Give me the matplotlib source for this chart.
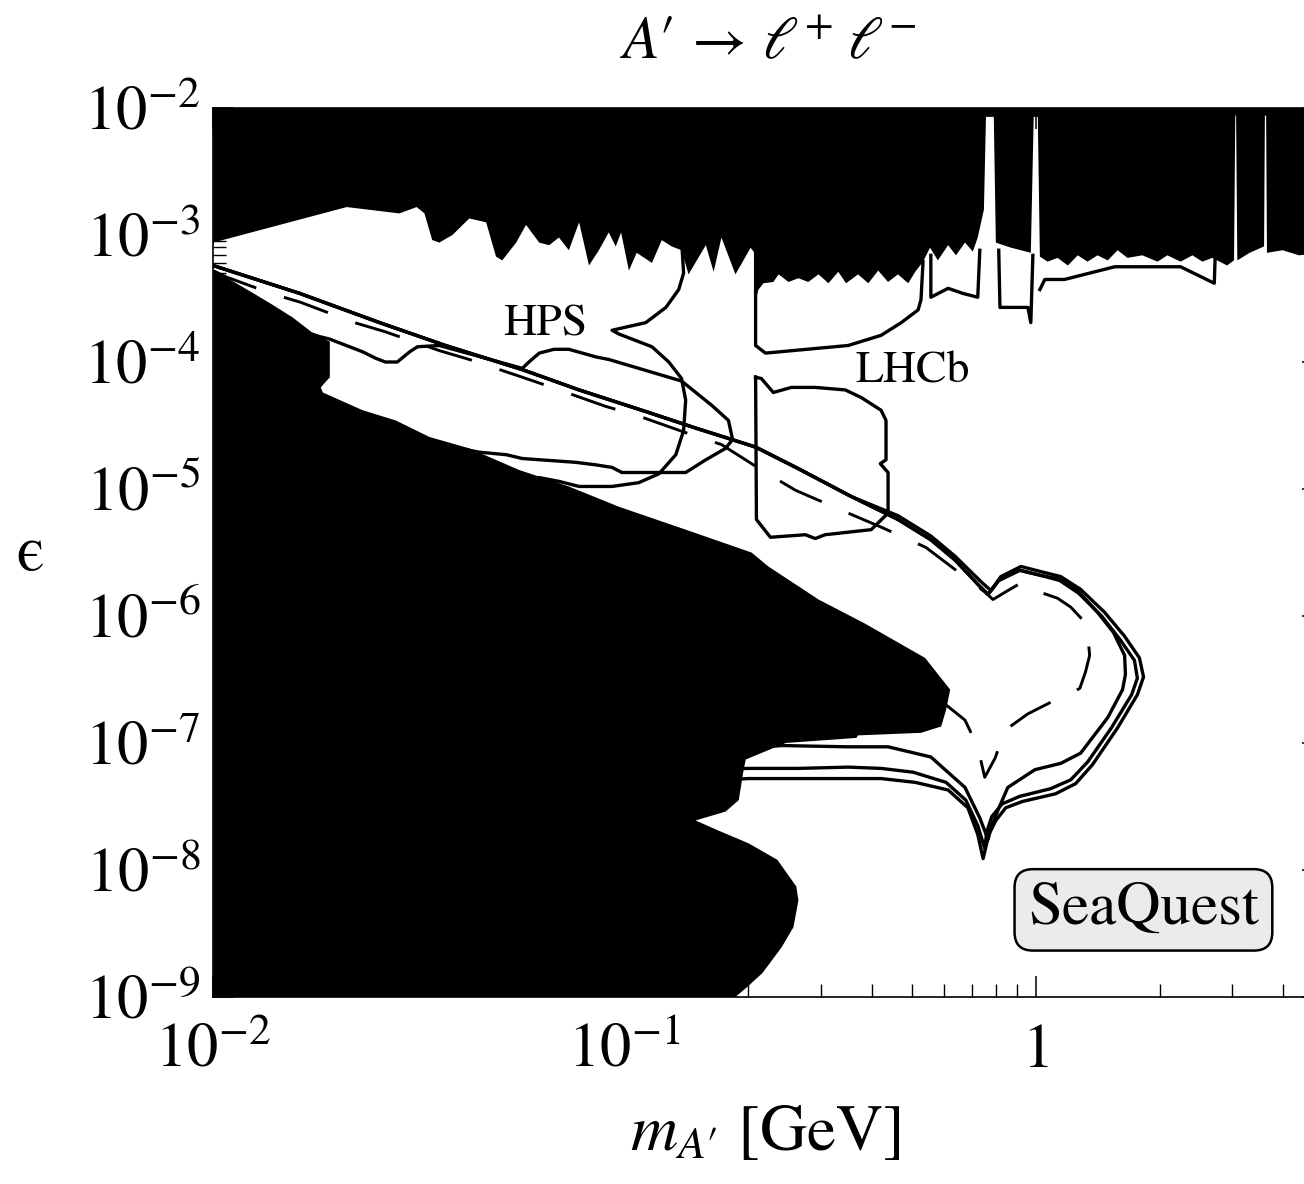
import numpy as np
import matplotlib
matplotlib.use('Agg')
import matplotlib.pyplot as plt
from matplotlib.ticker import FixedLocator, FixedFormatter, LogLocator, NullFormatter

plt.rcParams['font.family'] = ['STIXGeneral', 'DejaVu Serif']
plt.rcParams['mathtext.fontset'] = 'stix'

# ---------------- data: log10(m_A' / GeV), log10(epsilon) ----------------
upper_excl_logm = [-2.00, -1.675, -1.547, -1.505, -1.486, -1.467, -1.45, -1.418, -1.377, -1.336, -1.312, -1.297,
                   -1.263, -1.239, -1.207, -1.183, -1.159, -1.135, -1.11, -1.086, -1.062, -1.038, -1.021, -1.008,
                   -0.989, -0.97, -0.933, -0.909, -0.885, -0.861, -0.844, -0.802, -0.783, -0.764, -0.73, -0.693,
                   -0.684, -0.679, -0.674, -0.662, -0.638, -0.625, -0.601, -0.577, -0.553, -0.528, -0.504, -0.480,
                   -0.461, -0.432, -0.407, -0.383, -0.359, -0.335, -0.310, -0.293, -0.274, -0.257, -0.238, -0.213,
                   -0.194, -0.172, -0.153, -0.141, -0.126, -0.121, -0.102, -0.097, -0.06, -0.012, -0.005, 0.005,
                   0.010, 0.029, 0.053, 0.078, 0.102, 0.126, 0.150, 0.175, 0.199, 0.223, 0.259, 0.296, 0.320,
                   0.352, 0.381, 0.405, 0.429, 0.465, 0.482, 0.485, 0.487, 0.49, 0.52, 0.555, 0.557, 0.560, 0.562,
                   0.60, 0.64, 0.70]
upper_excl_logeps = [-3.06, -2.78, -2.83, -2.78, -2.83, -3.04, -3.06, -3.00, -2.87, -2.90, -3.17, -3.20,
                     -3.06, -2.92, -3.06, -3.08, -3.02, -3.12, -2.90, -3.24, -3.12, -2.98, -3.09, -2.98,
                     -3.28, -3.14, -3.22, -3.04, -3.09, -3.12, -3.31, -3.08, -3.29, -3.02, -3.31, -3.10,
                     -3.14, -3.49, -3.43, -3.38, -3.37, -3.31, -3.37, -3.34, -3.37, -3.31, -3.38, -3.29,
                     -3.38, -3.31, -3.38, -3.28, -3.37, -3.31, -3.38, -3.29, -3.21, -3.10, -3.20, -3.08,
                     -3.16, -3.06, -3.13, -3.02, -2.80, -2.07, -2.07, -3.06, -3.10, -3.14, -2.07, -2.07,
                     -3.17, -3.21, -3.18, -3.24, -3.16, -3.21, -3.16, -3.20, -3.12, -3.18, -3.16, -3.21, -3.16,
                     -3.21, -3.16, -3.21, -3.18, -3.24, -3.20, -2.06, -2.06, -3.20, -3.14, -3.09, -2.06, -2.06, -3.14,
                     -3.12, -3.16, -3.14]

lower_excl_logm = [-2.0, -1.959, -1.896, -1.855, -1.806, -1.758, -1.741, -1.716, -1.716, -1.738, -1.733, -1.636,
                   -1.556, -1.474, -1.377, -1.256, -1.135, -1.013, -0.851, -0.691, -0.65, -0.528, -0.415, -0.269,
                   -0.208, -0.218, -0.23, -0.279, -0.432, -0.436, -0.608, -0.705, -0.71, -0.722, -0.754, -0.827,
                   -0.771, -0.698, -0.628, -0.582, -0.577, -0.589, -0.618, -0.664, -0.701, -0.73, -2.0]
lower_excl_logeps = [-3.28, -3.35, -3.47, -3.55, -3.65, -3.77, -3.80, -3.84, -4.12, -4.20, -4.24, -4.38,
                     -4.46, -4.59, -4.68, -4.85, -4.98, -5.14, -5.32, -5.50, -5.61, -5.87, -6.06, -6.33,
                     -6.58, -6.74, -6.87, -6.92, -6.94, -6.96, -7.00, -7.13, -7.21, -7.45, -7.54, -7.61,
                     -7.69, -7.79, -7.92, -8.13, -8.24, -8.45, -8.61, -8.81, -8.92, -9.0, -9.0]

# SeaQuest reach contours: common diagonal + three tails
sq_diag_logm = [-2.000, -1.789, -1.595, -1.435, -1.248, -1.110, -0.948, -0.827, -0.739, -0.681, -0.577, -0.448]
sq_diag_logeps = [-3.24, -3.46, -3.69, -3.87, -4.06, -4.22, -4.39, -4.52, -4.61, -4.67, -4.84, -5.06]

sq1_logm = [-0.335, -0.255, -0.196, -0.133, -0.109, -0.085, -0.036, 0.012, 0.061, 0.109, 0.167, 0.216, 0.252,
            0.262, 0.247, 0.199, 0.138, 0.097, 0.048, -0.032, -0.073, -0.097, -0.114, -0.128, -0.141, -0.165,
            -0.213, -0.293, -0.376, -0.456, -0.577, -0.698, -0.819]
sq1_logeps = [-5.21, -5.37, -5.53, -5.73, -5.80, -5.69, -5.61, -5.65, -5.69, -5.79, -5.97, -6.16, -6.33,
              -6.48, -6.62, -6.88, -7.17, -7.32, -7.40, -7.46, -7.51, -7.61, -7.72, -7.91, -7.72, -7.51,
              -7.37, -7.31, -7.28, -7.28, -7.28, -7.28, -7.30]

sq2_logm = [-0.335, -0.255, -0.196, -0.138, -0.116, -0.090, -0.039, 0.012, 0.058, 0.104, 0.160, 0.206, 0.240,
            0.247, 0.233, 0.184, 0.126, 0.085, 0.036, -0.039, -0.082, -0.107, -0.119, -0.124, -0.141, -0.170,
            -0.218, -0.298, -0.376, -0.456, -0.577, -0.698, -0.819]
sq2_logeps = [-5.24, -5.40, -5.56, -5.76, -5.83, -5.72, -5.64, -5.68, -5.72, -5.82, -6.00, -6.19, -6.35,
              -6.49, -6.62, -6.88, -7.15, -7.29, -7.36, -7.42, -7.48, -7.58, -7.70, -7.83, -7.65, -7.45,
              -7.31, -7.23, -7.20, -7.19, -7.20, -7.20, -7.21]

sq3_logm = [-0.335, -0.255, -0.196, -0.138, -0.116, -0.090, -0.039, 0.012, 0.058, 0.102, 0.150, 0.189, 0.216,
            0.218, 0.211, 0.175, 0.109, 0.061, -0.002, -0.068, -0.092, -0.109, -0.116, -0.136, -0.172, -0.255,
            -0.359, -0.456, -0.618, -0.698]
sq3_logeps = [-5.24, -5.40, -5.56, -5.76, -5.83, -5.72, -5.64, -5.68, -5.71, -5.80, -5.97, -6.13, -6.31,
              -6.46, -6.58, -6.80, -7.08, -7.16, -7.21, -7.35, -7.53, -7.67, -7.76, -7.59, -7.35, -7.11,
              -7.03, -7.03, -7.02, -7.04]

sq_dash_logm = [-2.0, -1.968, -1.859, -1.787, -1.656, -1.583, -1.450, -1.377, -1.248, -1.176, -1.045, -0.970,
                -0.839, -0.764, -0.657, -0.584, -0.463, -0.376, -0.267, -0.206, -0.124, -0.104, -0.068, -0.036,
                -0.007, 0.017, 0.053, 0.085, 0.114, 0.126, 0.131, 0.121, 0.107, 0.078, 0.036, -0.019, -0.075,
                -0.099, -0.124, -0.141, -0.172, -0.218, -0.262]
sq_dash_logeps = [-3.28, -3.33, -3.46, -3.53, -3.69, -3.76, -3.91, -3.98, -4.12, -4.20, -4.35, -4.42,
                  -4.57, -4.65, -4.87, -5.01, -5.18, -5.30, -5.46, -5.61, -5.81, -5.87, -5.80, -5.74,
                  -5.76, -5.82, -5.86, -5.93, -6.03, -6.13, -6.31, -6.44, -6.57, -6.62, -6.68, -6.77, -6.90,
                  -7.12, -7.27, -7.03, -6.82, -6.70, -6.62]

# HPS contours
hps1_logm = [-0.861, -0.856, -0.868, -0.899, -0.948, -1.030, -1.013, -0.933, -0.892, -0.861, -0.851, -0.856,
             -0.875, -0.916, -0.965, -1.030, -1.110, -1.159, -1.207, -1.256]
hps1_logeps = [-3.04, -3.30, -3.43, -3.57, -3.69, -3.75, -3.78, -3.88, -4.00, -4.13, -4.30, -4.54,
               -4.73, -4.88, -4.95, -4.98, -4.98, -4.94, -4.91, -4.93]
hps2_logm = [-1.789, -1.741, -1.716, -1.636, -1.605, -1.581, -1.552, -1.522, -1.503, -1.450, -1.248, -1.232,
             -1.207, -1.171, -1.135, -1.069, -1.038, -0.965, -0.861, -0.788, -0.747, -0.737, -0.754, -0.802,
             -0.851, -1.006, -1.030, -1.069, -1.118, -1.248, -1.287, -1.353, -1.401]
hps2_logeps = [-3.75, -3.80, -3.82, -3.92, -3.97, -4.00, -4.00, -3.92, -3.88, -3.87, -4.05, -4.00,
               -3.93, -3.90, -3.90, -3.96, -3.98, -4.05, -4.15, -4.34, -4.46, -4.61, -4.68, -4.77,
               -4.87, -4.87, -4.83, -4.81, -4.79, -4.76, -4.73, -4.71, -4.68]

# LHCb contours
lhcb1_logm = [-0.681, -0.681, -0.657, -0.456, -0.376, -0.327, -0.286, -0.279, -0.274]
lhcb1_logeps = [-3.08, -3.87, -3.93, -3.87, -3.79, -3.69, -3.59, -3.51, -3.21]
lhcb_pocket1_logm = [-0.255, -0.255, -0.213, -0.177, -0.141, -0.136]
lhcb_pocket1_logeps = [-3.16, -3.49, -3.42, -3.46, -3.49, -3.12]
lhcb_pocket2_logm = [-0.090, -0.087, -0.019, -0.012, -0.007]
lhcb_pocket2_logeps = [-3.12, -3.57, -3.57, -3.69, -3.16]
lhcb_pocket3_logm = [0.010, 0.022, 0.070, 0.192, 0.352, 0.434, 0.436]
lhcb_pocket3_logeps = [-3.43, -3.35, -3.35, -3.25, -3.25, -3.38, -3.18]
lhcb2_logm = [-0.681, -0.667, -0.638, -0.594, -0.536, -0.463, -0.424, -0.376, -0.364, -0.364, -0.378, -0.359,
              -0.359, -0.400, -0.512, -0.536, -0.560, -0.645, -0.679, -0.681]
lhcb2_logeps = [-4.12, -4.13, -4.24, -4.20, -4.20, -4.22, -4.28, -4.38, -4.46, -4.77, -4.80, -4.87,
                -5.19, -5.32, -5.36, -5.39, -5.36, -5.38, -5.24, -4.12]

x_limits = (1e-2, 5.0)
y_limits = (1e-9, 1e-2)
x_major = [1e-2, 1e-1, 1.0]
x_major_labels = [r'$10^{-2}$', r'$10^{-1}$', r'$1$']
y_major = [1e-9, 1e-8, 1e-7, 1e-6, 1e-5, 1e-4, 1e-3, 1e-2]
y_major_labels = [r'$10^{-9}$', r'$10^{-8}$', r'$10^{-7}$', r'$10^{-6}$', r'$10^{-5}$', r'$10^{-4}$',
                  r'$10^{-3}$', r'$10^{-2}$']


def P(a):
    return np.power(10.0, np.asarray(a, dtype=float))


fig = plt.figure(figsize=(13.04, 11.84), dpi=100)
ax = fig.add_axes([0.16334, 0.15794, 0.85146, 0.75084])
ax.set_xscale('log')
ax.set_yscale('log')
ax.set_xlim(*x_limits)
ax.set_ylim(*y_limits)

# excluded regions (black)
ux = np.concatenate([P(upper_excl_logm), [x_limits[1], x_limits[0]]])
uy = np.concatenate([P(upper_excl_logeps), [y_limits[1], y_limits[1]]])
ax.fill(ux, uy, color='black', lw=0, zorder=3)
ax.fill(P(lower_excl_logm), P(lower_excl_logeps), color='black', lw=0, zorder=3)

lw = 2.4
for tail_m, tail_e in [(sq1_logm, sq1_logeps), (sq2_logm, sq2_logeps), (sq3_logm, sq3_logeps)]:
    ax.plot(P(sq_diag_logm + tail_m), P(sq_diag_logeps + tail_e), color='black', lw=lw,
            solid_joinstyle='round', zorder=2)
ax.plot(P(sq_dash_logm), P(sq_dash_logeps), color='black', lw=2.1, linestyle=(0, (16, 10)), zorder=2)

for mm, ee in [(hps1_logm, hps1_logeps), (hps2_logm, hps2_logeps), (lhcb1_logm, lhcb1_logeps),
               (lhcb_pocket1_logm, lhcb_pocket1_logeps), (lhcb_pocket2_logm, lhcb_pocket2_logeps),
               (lhcb_pocket3_logm, lhcb_pocket3_logeps), (lhcb2_logm, lhcb2_logeps)]:
    ax.plot(P(mm), P(ee), color='black', lw=lw, zorder=2)

ax.text(0.299, 0.756, 'HPS', transform=ax.transAxes, ha='center', va='center', fontsize=33, zorder=6)
ax.text(0.630, 0.703, 'LHCb', transform=ax.transAxes, ha='center', va='center', fontsize=33, zorder=6)
ax.text(0.838, 0.098, 'SeaQuest', transform=ax.transAxes, ha='center', va='center', fontsize=44, zorder=6,
        bbox=dict(boxstyle='round,pad=0.22,rounding_size=0.3', facecolor='#ebebeb', edgecolor='black',
                  linewidth=1.8))

# ticks
ax.xaxis.set_major_locator(FixedLocator(x_major))
ax.xaxis.set_major_formatter(FixedFormatter(x_major_labels))
ax.xaxis.set_minor_locator(LogLocator(base=10, subs=np.arange(2, 10), numticks=50))
ax.xaxis.set_minor_formatter(NullFormatter())
ax.yaxis.set_major_locator(FixedLocator(y_major))
ax.yaxis.set_major_formatter(FixedFormatter(y_major_labels))
ax.yaxis.set_minor_locator(LogLocator(base=10, subs=np.arange(2, 10), numticks=50))
ax.yaxis.set_minor_formatter(NullFormatter())
ax.tick_params(which='both', direction='in', top=True, right=True, colors='black')
ax.tick_params(which='major', length=15, width=1.1, labelsize=45)
ax.tick_params(which='minor', length=9.5, width=1.0)
ax.tick_params(axis='y', which='major', pad=9)
ax.tick_params(axis='x', which='major', pad=19)
for s in ax.spines.values():
    s.set_linewidth(1.2)

fig.text(768 / 1304, 1 - 45 / 1184, '$A\u2032\\,\\rightarrow\\,\\ell^{+}\\;\\ell^{-}$', ha='center',
         va='center', fontsize=43)
fig.text(765 / 1304, 1 - 1135 / 1184, '$m_{A\u2032}$ [GeV]', ha='center', va='center', fontsize=47)
fig.text(30 / 1304, 1 - 555 / 1184, '\u03f5', ha='center', va='center', fontsize=46)

fig.savefig('out.png', dpi=100)
